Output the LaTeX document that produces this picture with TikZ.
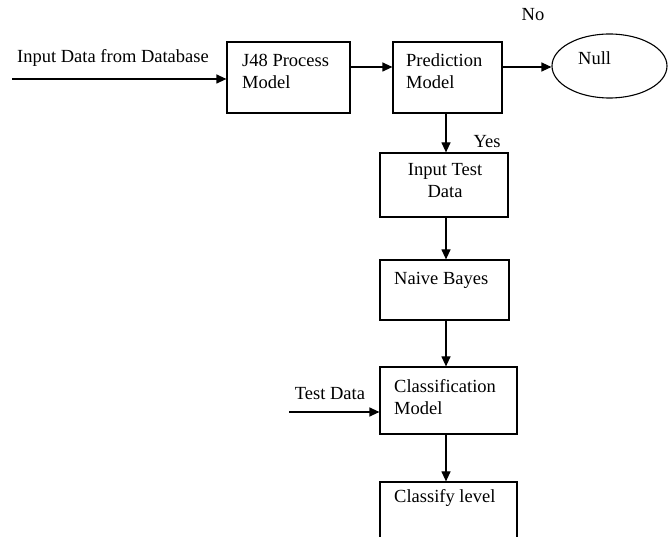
\documentclass[tikz,border=0pt]{standalone}
\usepackage{fontspec}
\setmainfont{Liberation Serif}
\usetikzlibrary{arrows.meta,calc,shapes.geometric}
\tikzset{
  blk/.style={draw=black, line width=1.2pt, rectangle, inner sep=0pt},
  oval/.style={draw=black, line width=1.1pt, ellipse, inner sep=0pt},
  arr/.style={draw=black, line width=1.2pt, -{Triangle[length=10pt,width=9pt]}},
  txt/.style={inner sep=0pt, font=\fontsize{18.5}{22}\selectfont, text=black},
}
\begin{document}
\begin{tikzpicture}[x=1pt,y=-1pt]
\clip (0,0) rectangle (670,537);
% boxes
\node[blk, minimum width=123pt, minimum height=71pt] (j48) at (288.5,77.5) {};
\node[blk, minimum width=109pt, minimum height=71pt] (pred) at (447.5,77.5) {};
\node[oval, minimum width=115pt, minimum height=64pt] (null) at (609.5,66) {};
\node[blk, minimum width=128pt, minimum height=64pt] (itd) at (444,185) {};
\node[blk, minimum width=129pt, minimum height=60pt] (nb) at (444.5,290) {};
\node[blk, minimum width=137pt, minimum height=67pt] (cm) at (448.5,400.5) {};
\node[blk, minimum width=137pt, minimum height=80pt] (cl) at (448.5,522) {};
% texts
\node[txt, anchor=west, align=left] (t1) at (242,71) {J48 Process\\Model};
\node[txt, anchor=west, align=left] (t2) at (406,71) {Prediction\\Model};
\node[txt, anchor=west] (t3) at (578,58) {Null};
\node[txt, align=center] (t4) at (445,181) {Input Test\\Data};
\node[txt, anchor=base west] (t5) at (394,285) {Naive Bayes};
\node[txt, anchor=west, align=left] (t6) at (394,397) {Classification\\Model};
\node[txt, anchor=base west] (t7) at (394,503) {Classify level};
\node[txt, anchor=base] (l1) at (330,400) {Test Data};
\node[txt, anchor=base west] (l2) at (17,63) {Input Data from Database};
\node[txt, anchor=base] (l3) at (533,21) {No};
\node[txt, anchor=base] (l4) at (487,148) {Yes};
% coordinates
\coordinate (inA) at (12,79);
\coordinate (y67) at (0,67);
\coordinate (xv) at (446,0);
\coordinate (tdA) at (289,412);
% connectors
\draw[arr] (inA) -- (inA -| j48.west);
\draw[arr] (j48.east |- y67) -- (pred.west |- y67);
\draw[arr] (pred.east |- y67) -- (null.west |- y67);
\draw[arr] (xv |- pred.south) -- (xv |- itd.north);
\draw[arr] (xv |- itd.south) -- (xv |- nb.north);
\draw[arr] (xv |- nb.south) -- (xv |- cm.north);
\draw[arr] (xv |- cm.south) -- (xv |- cl.north);
\draw[arr] (tdA) -- (tdA -| cm.west);
\end{tikzpicture}
\end{document}
